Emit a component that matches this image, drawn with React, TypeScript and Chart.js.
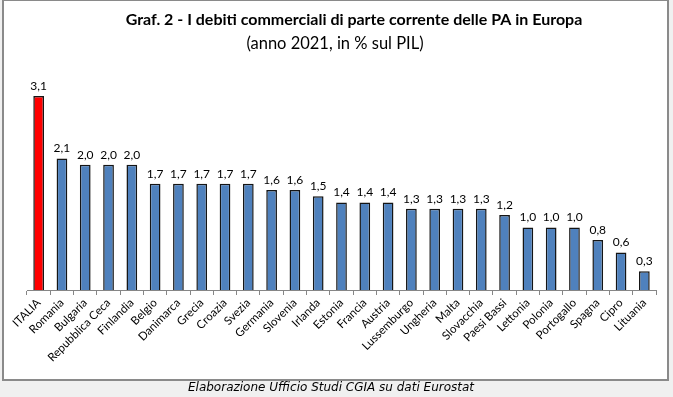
import React, { useEffect, useRef } from "react";
import { Chart, registerables } from "chart.js";

Chart.register(...registerables);

const categories = [
  "ITALIA", "Romania", "Bulgaria", "Repubblica Ceca", "Finlandia", "Belgio", "Danimarca",
  "Grecia", "Croazia", "Svezia", "Germania", "Slovenia", "Irlanda", "Estonia", "Francia",
  "Austria", "Lussemburgo", "Ungheria", "Malta", "Slovacchia", "Paesi Bassi", "Lettonia",
  "Polonia", "Portogallo", "Spagna", "Cipro", "Lituania",
];
const values = [
  3.1, 2.1, 2.0, 2.0, 2.0, 1.7, 1.7, 1.7, 1.7, 1.7, 1.6, 1.6, 1.5, 1.4, 1.4,
  1.4, 1.3, 1.3, 1.3, 1.3, 1.2, 1.0, 1.0, 1.0, 0.8, 0.6, 0.3,
];
const highlight = "ITALIA";
const titleText = "Graf. 2 - I debiti commerciali di parte corrente delle PA in Europa";
const subtitleText = "(anno 2021, in % sul PIL)";
const footerText = "Elaborazione Ufficio Studi CGIA su dati Eurostat";

const W = 673;
const H = 397;

const framePlugin = {
  id: "frame",
  beforeDraw(chart: any) {
    const ctx = chart.ctx;
    ctx.save();
    ctx.fillStyle = "#f0f0f0";
    ctx.fillRect(0, 0, W, H);
    ctx.fillStyle = "#ffffff";
    ctx.fillRect(2, 0, 667, 381);
    ctx.strokeStyle = "#8a8a8a";
    ctx.lineWidth = 2;
    ctx.strokeRect(3, 0, 665, 380);
    ctx.restore();
  },
  afterDraw(chart: any) {
    const ctx = chart.ctx;
    ctx.save();
    ctx.fillStyle = "#000";
    ctx.textAlign = "center";
    ctx.textBaseline = "middle";
    ctx.font = "bold 16px Lato";
    ctx.fillText(titleText, 354, 20);
    ctx.font = "16.5px Lato";
    ctx.fillText(subtitleText, 335, 44);
    ctx.font = "italic 12px 'DejaVu Sans'";
    ctx.fillText(footerText, 331, 388);
    // value labels
    const meta = chart.getDatasetMeta(0);
    ctx.font = "12px Lato";
    ctx.textBaseline = "bottom";
    meta.data.forEach((bar: any, i: number) => {
      const txt = values[i].toFixed(1).replace(".", ",");
      ctx.fillText(txt, bar.x, bar.y - 4);
    });
    ctx.restore();
  },
};

export default function App() {
  const ref = useRef<HTMLCanvasElement>(null);
  useEffect(() => {
    if (!ref.current) return;
    const chart = new Chart(ref.current, {
      type: "bar",
      data: {
        labels: categories,
        datasets: [
          {
            data: values,
            backgroundColor: categories.map((c) => (c === highlight ? "#ff0000" : "#4f81bd")),
            borderColor: "#151515",
            borderWidth: 1.5,
            barPercentage: 0.46,
            categoryPercentage: 1,
          },
        ],
      },
      options: {
        responsive: false,
        animation: false,
        layout: { padding: { left: 27, right: 17, top: 71, bottom: 0 } },
        plugins: { legend: { display: false }, tooltip: { enabled: false }, title: { display: false } },
        scales: {
          y: { display: false, min: 0, max: 3.5 },
          x: {
            afterFit: (s: any) => {
              s.height = 107;
            },
            grid: { display: true, drawOnChartArea: false, tickLength: 5, color: "#868686", offset: true },
            border: { color: "#868686", width: 1 },
            ticks: {
              minRotation: 45,
              maxRotation: 45,
              autoSkip: false,
              color: "#000",
              padding: 1,
              font: { family: "Lato", size: 11.5 },
            },
          },
        },
      },
      plugins: [framePlugin],
    });
    return () => chart.destroy();
  }, []);
  return (
    <div style={{ position: "fixed", left: 0, top: 0, width: W, height: H }}>
      <canvas ref={ref} width={W} height={H} style={{ display: "block" }} />
    </div>
  );
}
